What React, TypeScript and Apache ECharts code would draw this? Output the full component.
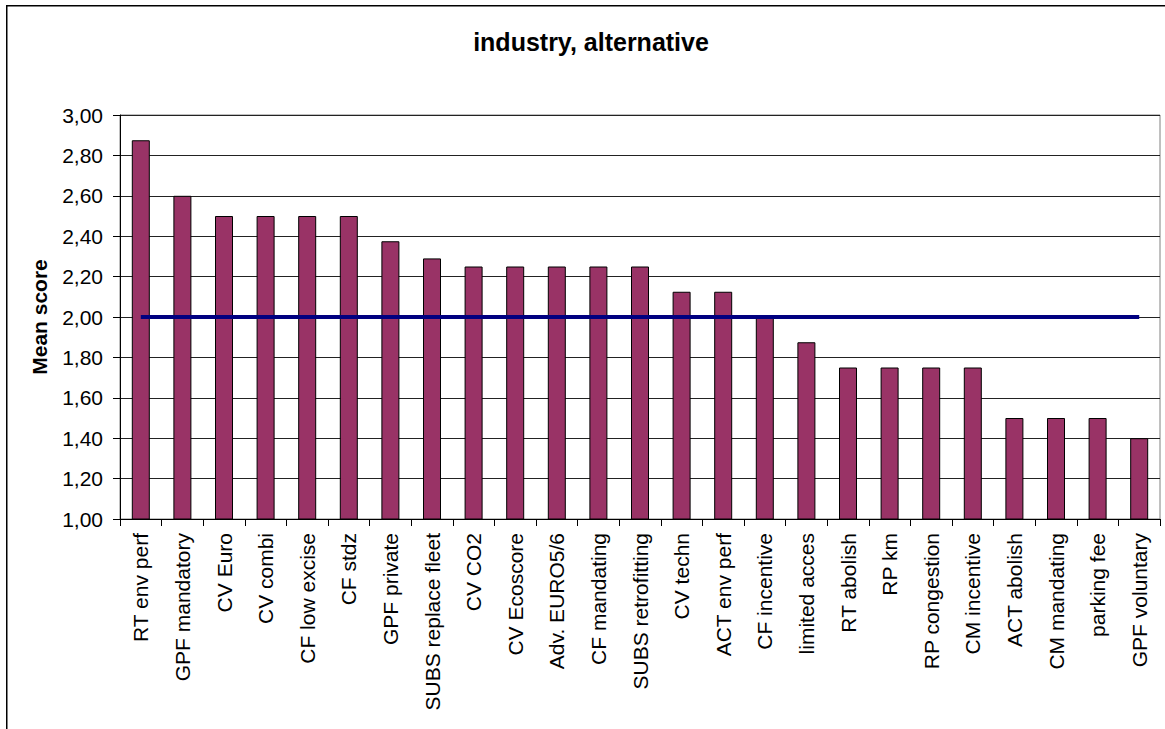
import React, { useEffect, useRef } from "react";
import * as echarts from "echarts";

const categories = [
  "RT env perf",
  "GPF mandatory",
  "CV Euro",
  "CV combi",
  "CF low excise",
  "CF stdz",
  "GPF private",
  "SUBS replace fleet",
  "CV CO2",
  "CV Ecoscore",
  "Adv. EURO5/6",
  "CF mandating",
  "SUBS retrofitting",
  "CV techn",
  "ACT env perf",
  "CF incentive",
  "limited acces",
  "RT abolish",
  "RP km",
  "RP congestion",
  "CM incentive",
  "ACT abolish",
  "CM mandating",
  "parking fee",
  "GPF voluntary",
];

const meanScores = [
  2.875, 2.6, 2.5, 2.5, 2.5, 2.5, 2.375, 2.29, 2.25, 2.25, 2.25, 2.25, 2.25,
  2.125, 2.125, 2.0, 1.875, 1.75, 1.75, 1.75, 1.75, 1.5, 1.5, 1.5, 1.4,
];

const referenceLine = [
  2, 2, 2, 2, 2, 2, 2, 2, 2, 2, 2, 2, 2, 2, 2, 2, 2, 2, 2, 2, 2, 2, 2, 2, 2,
];

const titleText = "industry, alternative";
const yAxisName = "Mean score";

const FONT = "'Liberation Sans', Arial, sans-serif";

export default function App() {
  const ref = useRef<HTMLDivElement>(null);

  useEffect(() => {
    if (!ref.current) return;
    const chart = echarts.init(ref.current, undefined, { renderer: "svg" });
    chart.setOption({
      animation: false,
      backgroundColor: "#ffffff",
      textStyle: { fontFamily: FONT },
      graphic: [
        {
          type: "rect",
          shape: { x: 6.75, y: 5.75, width: 1400, height: 1000 },
          style: { fill: "none", stroke: "#000", lineWidth: 1.5 },
          silent: true,
          z: -10,
        },
        {
          type: "text",
          x: 591,
          y: 42,
          style: {
            text: titleText,
            fontFamily: FONT,
            fontSize: 25,
            fontWeight: "bold",
            fill: "#000",
            textAlign: "center",
            textVerticalAlign: "middle",
          },
        },
      ],
      grid: {
        left: 120,
        top: 115,
        width: 1040,
        height: 404,
        show: true,
        borderColor: "#808080",
        borderWidth: 1,
        backgroundColor: "transparent",
      },
      xAxis: {
        type: "category",
        data: categories,
        boundaryGap: true,
        axisLine: { show: true, lineStyle: { color: "#000", width: 1 } },
        axisTick: {
          show: true,
          length: 7,
          interval: 0,
          lineStyle: { color: "#000" },
        },
        axisLabel: {
          interval: 0,
          rotate: 90,
          margin: 14,
          fontSize: 21,
          color: "#000",
          fontFamily: FONT,
        },
        splitLine: { show: false },
      },
      yAxis: {
        type: "value",
        min: 1,
        max: 3,
        interval: 0.2,
        name: yAxisName,
        nameLocation: "middle",
        nameGap: 70,
        nameTextStyle: {
          fontSize: 21,
          fontWeight: "bold",
          color: "#000",
          fontFamily: FONT,
        },
        axisLine: { show: true, lineStyle: { color: "#000", width: 1 } },
        axisTick: { show: true, length: 7, lineStyle: { color: "#000" } },
        axisLabel: {
          margin: 17,
          fontSize: 21,
          color: "#000",
          fontFamily: FONT,
          formatter: (v: number) => v.toFixed(2).replace(".", ","),
        },
        splitLine: { show: true, lineStyle: { color: "#222", width: 1 } },
      },
      series: [
        {
          type: "bar",
          data: meanScores,
          barWidth: 18,
          itemStyle: {
            color: "#993366",
            borderColor: "#000",
            borderWidth: 1,
          },
          z: 2,
        },
        {
          type: "line",
          data: referenceLine,
          symbol: "none",
          lineStyle: { color: "#000080", width: 4 },
          z: 3,
        },
      ],
    });
    return () => chart.dispose();
  }, []);

  return (
    <div
      ref={ref}
      style={{
        position: "fixed",
        left: 0,
        top: 0,
        width: 1165,
        height: 729,
        background: "#fff",
      }}
    />
  );
}
